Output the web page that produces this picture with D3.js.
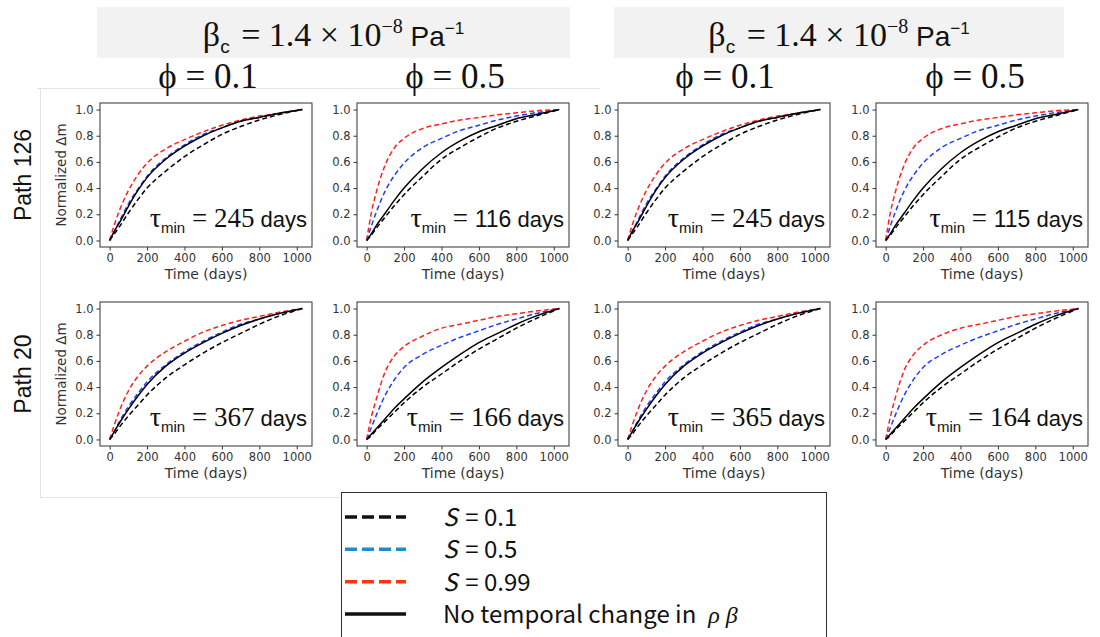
<!DOCTYPE html>
<html>
<head>
<meta charset="utf-8">
<script src="https://cdn.jsdelivr.net/npm/d3@7"></script>
<style>
  body { margin: 0; background: #fff; }
  svg { display: block; }
  .tick text { font-family: "DejaVu Sans", sans-serif; font-size: 11.5px; fill: #333; }
  .tick line, .domain { stroke: #333; }
</style>
</head>
<body>
<svg id="chart" width="1100" height="637"></svg>
<script>
// sample times (days)
const times = [0, 25, 50, 100, 150, 200, 300, 400, 500, 600, 700, 800, 900, 1030];

const phiLabels = ["0.1", "0.5", "0.1", "0.5"];
const pathNames = ["Path 126", "Path 20"];
const tauRow1 = ["245", "116", "245", "115"];
const tauRow2 = ["367", "166", "365", "164"];
const legendLabels = ["0.1", "0.5", "0.99"];

// Path 126, phi = 0.1 (left block)
const p126a_s01 = [0, 0.05, 0.10, 0.21, 0.31, 0.40, 0.53, 0.64, 0.73, 0.81, 0.87, 0.92, 0.96, 1];
const p126a_s05 = [0, 0.07, 0.14, 0.28, 0.39, 0.49, 0.63, 0.73, 0.81, 0.86, 0.91, 0.94, 0.97, 1];
const p126a_s099 = [0, 0.12, 0.22, 0.38, 0.50, 0.59, 0.70, 0.77, 0.83, 0.88, 0.92, 0.95, 0.97, 1];
const p126a_none = [0, 0.07, 0.13, 0.26, 0.38, 0.48, 0.62, 0.72, 0.80, 0.86, 0.91, 0.94, 0.97, 1];
// Path 126, phi = 0.5 (left block)
const p126b_s01 = [0, 0.04, 0.09, 0.18, 0.27, 0.35, 0.49, 0.62, 0.71, 0.79, 0.86, 0.91, 0.95, 1];
const p126b_s05 = [0, 0.11, 0.21, 0.38, 0.50, 0.59, 0.71, 0.78, 0.84, 0.88, 0.92, 0.95, 0.975, 1];
const p126b_s099 = [0, 0.21, 0.36, 0.58, 0.71, 0.78, 0.855, 0.89, 0.92, 0.94, 0.96, 0.975, 0.99, 1];
const p126b_none = [0, 0.05, 0.11, 0.21, 0.31, 0.40, 0.55, 0.67, 0.76, 0.83, 0.88, 0.93, 0.96, 1];
// Path 126, phi = 0.1 (right block)
const p126c_s01 = [0, 0.05, 0.10, 0.21, 0.31, 0.40, 0.53, 0.64, 0.73, 0.81, 0.87, 0.92, 0.96, 1];
const p126c_s05 = [0, 0.07, 0.14, 0.28, 0.39, 0.49, 0.63, 0.73, 0.81, 0.86, 0.91, 0.94, 0.97, 1];
const p126c_s099 = [0, 0.12, 0.22, 0.38, 0.50, 0.59, 0.70, 0.77, 0.83, 0.88, 0.92, 0.95, 0.97, 1];
const p126c_none = [0, 0.07, 0.13, 0.26, 0.38, 0.48, 0.62, 0.72, 0.80, 0.86, 0.91, 0.94, 0.97, 1];
// Path 126, phi = 0.5 (right block)
const p126d_s01 = [0, 0.04, 0.09, 0.18, 0.27, 0.35, 0.49, 0.62, 0.71, 0.79, 0.86, 0.91, 0.95, 1];
const p126d_s05 = [0, 0.11, 0.21, 0.38, 0.50, 0.59, 0.71, 0.78, 0.84, 0.88, 0.92, 0.95, 0.975, 1];
const p126d_s099 = [0, 0.21, 0.36, 0.58, 0.71, 0.78, 0.855, 0.89, 0.92, 0.94, 0.96, 0.975, 0.99, 1];
const p126d_none = [0, 0.05, 0.11, 0.21, 0.31, 0.40, 0.55, 0.67, 0.76, 0.83, 0.88, 0.93, 0.96, 1];
// Path 20, phi = 0.1 (left block)
const p20a_s01 = [0, 0.04, 0.09, 0.18, 0.26, 0.34, 0.47, 0.57, 0.66, 0.74, 0.81, 0.88, 0.94, 1];
const p20a_s05 = [0, 0.06, 0.13, 0.25, 0.35, 0.44, 0.57, 0.67, 0.75, 0.82, 0.88, 0.92, 0.96, 1];
const p20a_s099 = [0, 0.11, 0.21, 0.37, 0.48, 0.56, 0.67, 0.75, 0.82, 0.87, 0.91, 0.94, 0.97, 1];
const p20a_none = [0, 0.06, 0.12, 0.23, 0.33, 0.42, 0.56, 0.66, 0.74, 0.81, 0.87, 0.92, 0.96, 1];
// Path 20, phi = 0.5 (left block)
const p20b_s01 = [0, 0.03, 0.07, 0.14, 0.21, 0.28, 0.40, 0.50, 0.60, 0.69, 0.77, 0.85, 0.92, 1];
const p20b_s05 = [0, 0.09, 0.18, 0.34, 0.46, 0.55, 0.65, 0.72, 0.78, 0.83, 0.88, 0.92, 0.96, 1];
const p20b_s099 = [0, 0.17, 0.30, 0.52, 0.64, 0.71, 0.79, 0.85, 0.88, 0.91, 0.94, 0.96, 0.98, 1];
const p20b_none = [0, 0.04, 0.08, 0.16, 0.24, 0.31, 0.44, 0.55, 0.65, 0.74, 0.81, 0.88, 0.94, 1];
// Path 20, phi = 0.1 (right block)
const p20c_s01 = [0, 0.04, 0.09, 0.18, 0.26, 0.34, 0.47, 0.57, 0.66, 0.74, 0.81, 0.88, 0.94, 1];
const p20c_s05 = [0, 0.06, 0.13, 0.25, 0.35, 0.44, 0.57, 0.67, 0.75, 0.82, 0.88, 0.92, 0.96, 1];
const p20c_s099 = [0, 0.11, 0.21, 0.37, 0.48, 0.56, 0.67, 0.75, 0.82, 0.87, 0.91, 0.94, 0.97, 1];
const p20c_none = [0, 0.06, 0.12, 0.23, 0.33, 0.42, 0.56, 0.66, 0.74, 0.81, 0.87, 0.92, 0.96, 1];
// Path 20, phi = 0.5 (right block)
const p20d_s01 = [0, 0.03, 0.07, 0.14, 0.21, 0.28, 0.40, 0.50, 0.60, 0.69, 0.77, 0.85, 0.92, 1];
const p20d_s05 = [0, 0.09, 0.18, 0.34, 0.46, 0.55, 0.65, 0.72, 0.78, 0.83, 0.88, 0.92, 0.96, 1];
const p20d_s099 = [0, 0.17, 0.31, 0.53, 0.65, 0.72, 0.80, 0.85, 0.88, 0.91, 0.94, 0.96, 0.98, 1];
const p20d_none = [0, 0.04, 0.08, 0.16, 0.24, 0.31, 0.44, 0.55, 0.65, 0.74, 0.81, 0.88, 0.94, 1];

const panels = [
  [[p126a_s01, p126a_s05, p126a_s099, p126a_none], [p126b_s01, p126b_s05, p126b_s099, p126b_none],
   [p126c_s01, p126c_s05, p126c_s099, p126c_none], [p126d_s01, p126d_s05, p126d_s099, p126d_none]],
  [[p20a_s01, p20a_s05, p20a_s099, p20a_none], [p20b_s01, p20b_s05, p20b_s099, p20b_none],
   [p20c_s01, p20c_s05, p20c_s099, p20c_none], [p20d_s01, p20d_s05, p20d_s099, p20d_none]]
];
const tauLabels = [tauRow1, tauRow2];

const svg = d3.select("svg#chart");
const SERIF = "'Liberation Serif', 'Times New Roman', serif";
const SANS = "'Liberation Sans', Arial, sans-serif";

// layout
const colX = [100, 357, 618, 876];
const rowY = [103, 302];
const pw = 212, ph = 144;

// faint frame of the pasted figure
const frame = svg.append("g").attr("stroke", "#e4e4e4").attr("fill", "none");
frame.append("line").attr("x1", 37).attr("x2", 600).attr("y1", 88.5).attr("y2", 88.5);
frame.append("line").attr("x1", 40.5).attr("x2", 40.5).attr("y1", 88).attr("y2", 497);
frame.append("line").attr("x1", 40).attr("x2", 560).attr("y1", 497.5).attr("y2", 497.5);

// header boxes
const headers = [{ x: 97, w: 473 }, { x: 614, w: 450 }];
headers.forEach((h) => {
  svg.append("rect").attr("x", h.x).attr("y", 7).attr("width", h.w).attr("height", 51)
    .attr("fill", "#f2f2f2");
  const t = svg.append("text").attr("x", h.x + h.w / 2).attr("y", 46)
    .attr("text-anchor", "middle").attr("fill", "#111");
  t.append("tspan").attr("font-family", SERIF).attr("font-size", 34).text("β");
  t.append("tspan").attr("font-family", SANS).attr("font-size", 19).attr("dy", 7).text("c");
  t.append("tspan").attr("font-family", SERIF).attr("font-size", 34).attr("dy", -7).attr("dx", 3).text(" = 1.4 × 10");
  t.append("tspan").attr("font-family", SERIF).attr("font-size", 20).attr("dy", -13).text("−8");
  t.append("tspan").attr("font-family", SANS).attr("font-size", 28).attr("dy", 13).text(" Pa");
  t.append("tspan").attr("font-family", SANS).attr("font-size", 17).attr("dy", -12).text("−1");
});

// phi column titles
const phiX = [208, 455, 725, 975];
phiLabels.forEach((p, i) => {
  svg.append("text").attr("x", phiX[i]).attr("y", 88).attr("text-anchor", "middle")
    .attr("font-family", SERIF).attr("font-size", 35).attr("fill", "#111")
    .text(`ϕ = ${p}`);
});

// row titles
pathNames.forEach((p, r) => {
  svg.append("text")
    .attr("transform", `translate(31,${rowY[r] + ph / 2}) rotate(-90)`)
    .attr("text-anchor", "middle")
    .attr("font-family", SANS).attr("font-size", 23).attr("fill", "#111")
    .text(p);
});

const x = d3.scaleLinear().domain([-51.5, 1081.5]).range([0, pw]);
const y = d3.scaleLinear().domain([-0.05, 1.05]).range([ph, 0]);

const styles = [
  { color: "#000", dash: "5,3" },
  { color: "#1f3dff", dash: "5,3" },
  { color: "#ff1f1f", dash: "5,3" },
  { color: "#000", dash: null }
];

const lineGen = d3.line()
  .x((d) => x(d.t))
  .y((d) => y(d.v))
  .curve(d3.curveMonotoneX);

panels.forEach((row, r) => {
  row.forEach((series, c) => {
    const g = svg.append("g").attr("transform", `translate(${colX[c]},${rowY[r]})`);

    g.append("g").attr("transform", `translate(0,${ph})`)
      .call(d3.axisBottom(x).tickValues([0, 200, 400, 600, 800, 1000]).tickFormat(d3.format("d"))
        .tickSize(3.5).tickSizeOuter(0).tickPadding(3))
      .call((a) => a.select(".domain").remove());
    g.append("g")
      .call(d3.axisLeft(y).tickValues([0, 0.2, 0.4, 0.6, 0.8, 1.0]).tickFormat(d3.format(".1f"))
        .tickSize(3.5).tickSizeOuter(0).tickPadding(3))
      .call((a) => a.select(".domain").remove());

    const clipId = `clip-${r}-${c}`;
    g.append("clipPath").attr("id", clipId).append("rect").attr("width", pw).attr("height", ph);

    series.forEach((vals, k) => {
      const pts = times.map((t, i) => ({ t: t, v: vals[i] }));
      g.append("path").datum(pts)
        .attr("clip-path", `url(#${clipId})`)
        .attr("fill", "none")
        .attr("stroke", styles[k].color)
        .attr("stroke-width", 1.5)
        .attr("stroke-dasharray", styles[k].dash)
        .attr("d", lineGen);
    });

    g.append("rect").attr("width", pw).attr("height", ph)
      .attr("fill", "none").attr("stroke", "#333").attr("stroke-width", 1);

    // tau label
    const numSans = r === 0 && (c === 1 || c === 3);
    const tl = g.append("text").attr("x", pw - 5).attr("y", y(0.1))
      .attr("text-anchor", "end").attr("fill", "#111");
    tl.append("tspan").attr("font-family", SERIF).attr("font-size", 28).text("τ");
    tl.append("tspan").attr("font-family", SANS).attr("font-size", 15).attr("dy", 6).text("min");
    tl.append("tspan").attr("font-family", SERIF).attr("font-size", 27).attr("dy", -6).text(" = ");
    tl.append("tspan").attr("font-family", numSans ? SANS : SERIF)
      .attr("font-size", numSans ? 23 : 27).text(tauLabels[r][c]);
    tl.append("tspan").attr("font-family", SANS).attr("font-size", 22).text(" days");

    g.append("text").attr("x", pw / 2).attr("y", ph + 32).attr("text-anchor", "middle")
      .attr("font-family", "'DejaVu Sans', sans-serif").attr("font-size", 14).attr("fill", "#333")
      .text("Time (days)");

    if (c === 0) {
      g.append("text")
        .attr("transform", `translate(-34,${ph / 2}) rotate(-90)`)
        .attr("text-anchor", "middle")
        .attr("font-family", "'DejaVu Sans', sans-serif").attr("font-size", 13.5).attr("fill", "#333")
        .text("Normalized Δm");
    }
  });
});

// legend
const legend = svg.append("g");
legend.append("rect").attr("x", 341.5).attr("y", 492.5).attr("width", 485).attr("height", 150)
  .attr("fill", "#fff").attr("stroke", "#333").attr("stroke-width", 1);

const legendItems = [
  { color: "#111", dash: "12,5" },
  { color: "#1d8bd3", dash: "12,5" },
  { color: "#ff3414", dash: "12,5" },
  { color: "#111", dash: null }
];
const legendY = d3.scalePoint().domain([0, 1, 2, 3]).range([517, 614]);

legendItems.forEach((it, i) => {
  const ly = legendY(i);
  legend.append("line").attr("x1", 345).attr("x2", 406).attr("y1", ly).attr("y2", ly)
    .attr("stroke", it.color).attr("stroke-width", 3.5).attr("stroke-dasharray", it.dash);
  const t = legend.append("text").attr("x", 443).attr("y", ly + 9)
    .attr("font-family", "'Noto Sans CJK JP', " + SANS).attr("font-size", 24).attr("fill", "#111");
  if (i < 3) {
    t.append("tspan").attr("font-style", "italic").text("S");
    t.append("tspan").attr("dx", 8).text(`= ${legendLabels[i]}`);
  } else {
    t.append("tspan").text("No temporal change in");
    t.append("tspan").attr("font-style", "italic").attr("font-family", SERIF).attr("dx", 12).text("ρ β");
  }
});
</script>
</body>
</html>
